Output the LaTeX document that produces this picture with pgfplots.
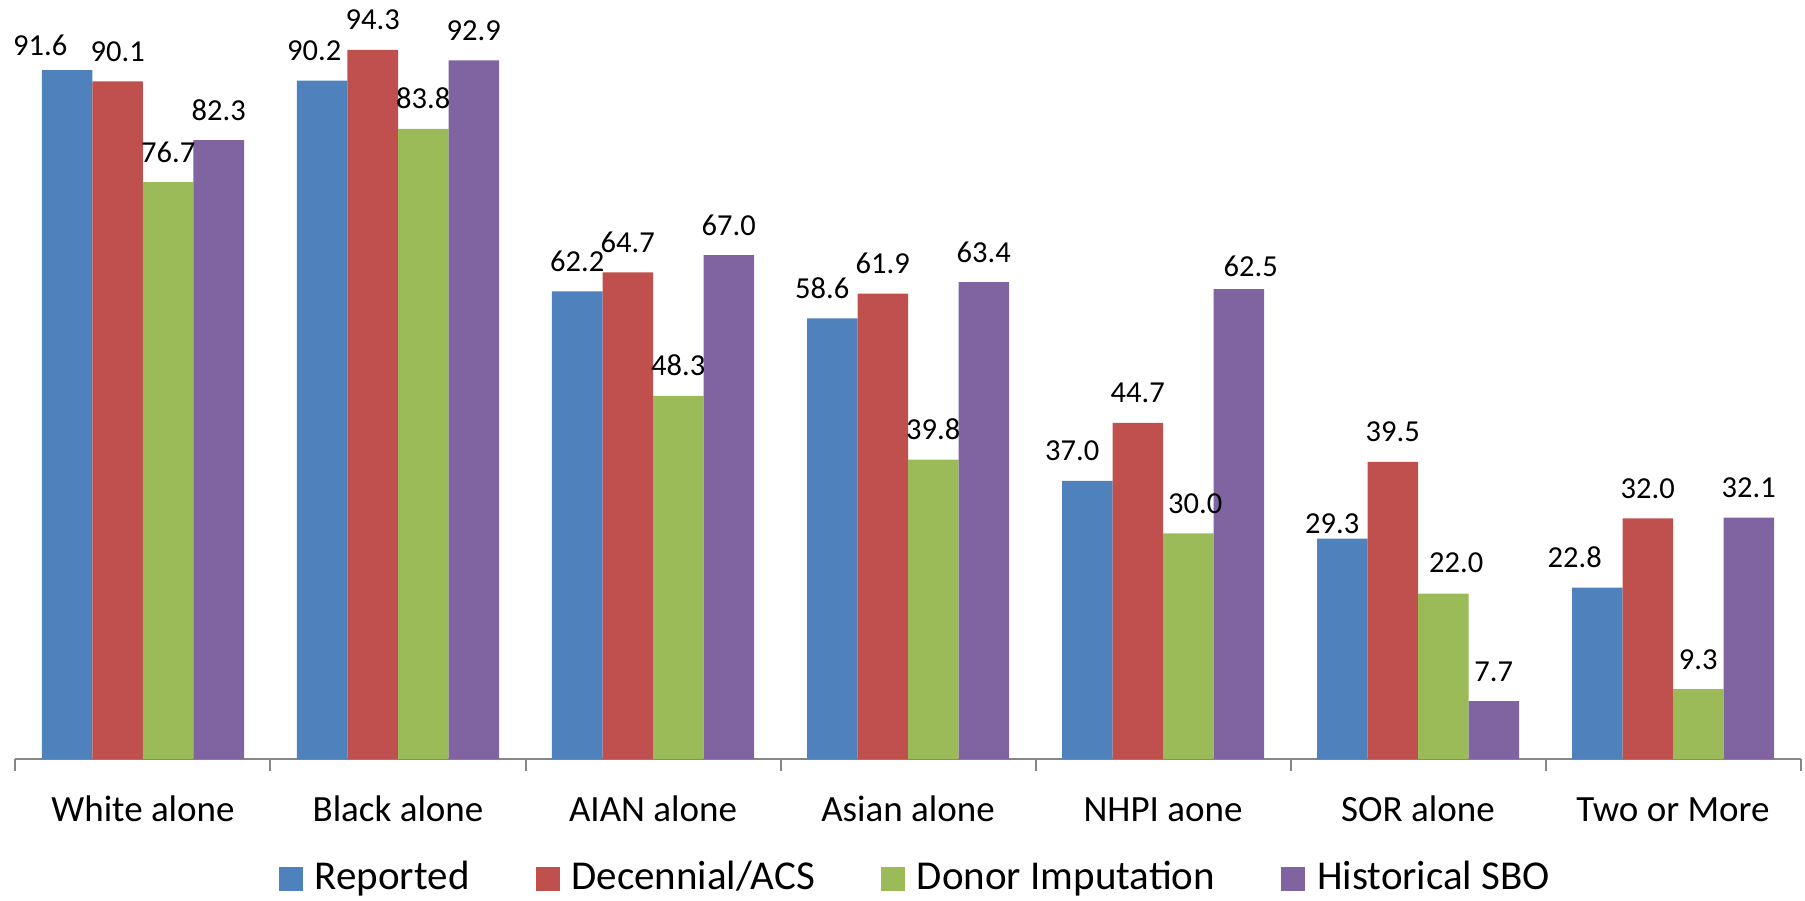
\documentclass[border=0pt]{standalone}
\usepackage{pgfplots}
\usepackage{pgfplotstable}
\pgfplotsset{compat=1.18}
\usepackage{fontspec}
\setmainfont{Carlito}
\definecolor{c1}{HTML}{4F81BD}
\definecolor{c2}{HTML}{C0504D}
\definecolor{c3}{HTML}{9BBB59}
\definecolor{c4}{HTML}{8064A2}
\definecolor{axgray}{HTML}{868686}

\pgfplotstableread{
x y dx ys
0 91.6 -10.8 6
1 90.2 -3.2 8
2 62.2 0 8
3 58.6 -4 8
4 37.0 -6 8
5 29.3 -4 2
6 22.8 -9 8
}\reported
\pgfplotstableread{
x y dx ys
0 90.1 0 8
1 94.3 0 8
2 64.7 0 8
3 61.9 0 8
4 44.7 0 8
5 39.5 0 8
6 32.0 0 8
}\decennial
\pgfplotstableread{
x y dx ys
0 76.7 0 8
1 83.8 0 8
2 48.3 0 8
3 39.8 0 8
4 30.0 2.8 8
5 22.0 5.2 8.4
6 9.3 0 8
}\donor
\pgfplotstableread{
x y dx ys
0 82.3 0 8
1 92.9 0 8
2 67.0 0 8
3 63.4 0 8
4 62.5 4.8 5.2
5 7.7 0 8
6 32.1 0 8
}\historical

\begin{document}
\begin{tikzpicture}
\begin{axis}[
  scale only axis,
  width=714pt, height=300.8pt,
  ybar=0pt, bar width=20.2pt,
  xmin=-0.5, xmax=6.5, ymin=0, ymax=100,
  enlarge x limits=false,
  clip=false,
  axis x line*=bottom,
  axis y line=none,
  x axis line style={draw=axgray, line width=0.8pt},
  xtick={0,...,6},
  xticklabels={White alone, Black alone, AIAN alone, Asian alone, NHPI aone, SOR alone, Two or More},
  major tick length=0pt,
  xticklabel style={font=\fontsize{14.8}{17}\selectfont, anchor=base, yshift=-24.8pt},
  extra x ticks={-0.5,0.5,1.5,2.5,3.5,4.5,5.5,6.5},
  extra x tick labels={},
  extra x tick style={major tick length=4.8pt, tick align=outside, tick style={draw=axgray, line width=0.8pt}},
  /pgf/number format/assume math mode=true,
  visualization depends on={\thisrow{dx} \as \dx},
  visualization depends on={\thisrow{ys} \as \ys},
  nodes near coords={\pgfmathprintnumber[fixed,fixed zerofill,precision=1]{\pgfplotspointmeta}},
  nodes near coords style={font=\fontsize{12.2}{14}\selectfont, anchor=base, inner sep=0pt, xshift=\dx pt, yshift=\ys pt, text=black},
  legend columns=4,
  legend cell align=left,
  legend style={draw=none, fill=none, inner sep=0pt, outer sep=0pt,
    at={(axis description cs:0.5036,-0.1353)}, anchor=north, yshift=-0.3pt,
    font=\fontsize{16.4}{19}\selectfont,
    nodes={inner sep=0pt, anchor=base west},
    /tikz/every odd column/.append style={column sep=4.8pt},
    /tikz/every even column/.append style={column sep=26.4pt}},
]
\addplot[fill=c1, draw=none, legend image code/.code={\fill[c1] (0pt,-0.4pt) rectangle (9.6pt,9.2pt);}] table[x=x,y=y] {\reported};
\addlegendentry{Reported}
\addplot[fill=c2, draw=none, legend image code/.code={\fill[c2] (0pt,-0.4pt) rectangle (9.6pt,9.2pt);}] table[x=x,y=y] {\decennial};
\addlegendentry{Decennial/ACS}
\addplot[fill=c3, draw=none, legend image code/.code={\fill[c3] (0pt,-0.4pt) rectangle (9.6pt,9.2pt);}] table[x=x,y=y] {\donor};
\addlegendentry{Donor Imputation}
\addplot[fill=c4, draw=none, legend image code/.code={\fill[c4] (0pt,-0.4pt) rectangle (9.6pt,9.2pt);}] table[x=x,y=y] {\historical};
\addlegendentry{Historical SBO}
\coordinate (o) at (rel axis cs:0,0);
\end{axis}
\pgfresetboundingbox
\path[use as bounding box] (o) ++(-6.2pt,-56.4pt) rectangle ++(722pt,360pt);
\end{tikzpicture}
\end{document}
